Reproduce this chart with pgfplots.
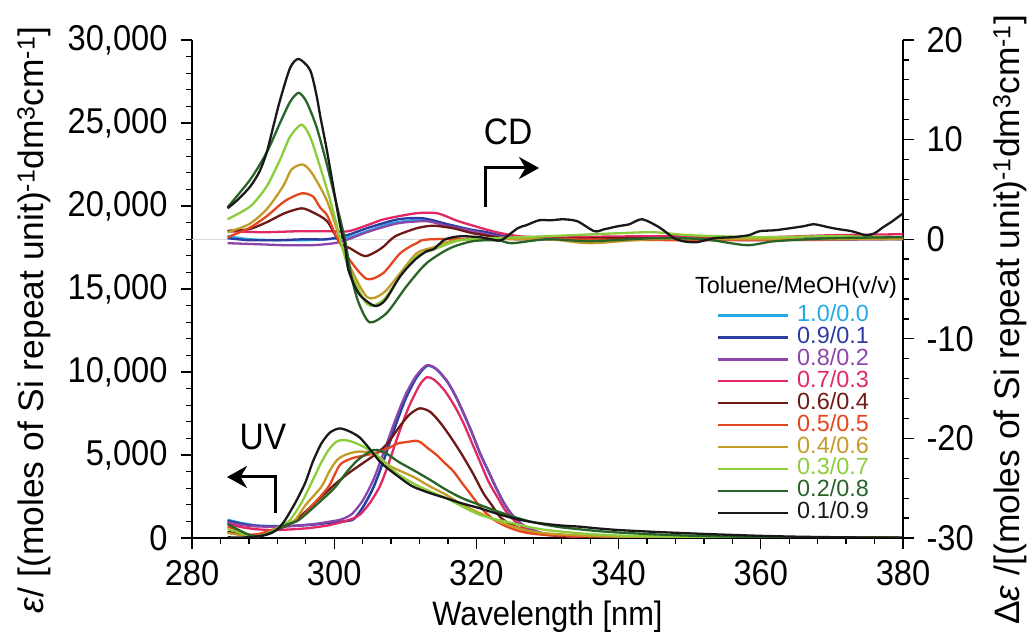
\documentclass[border=0pt]{standalone}
\usepackage{pgfplots}
\pgfplotsset{compat=1.18}
\usepackage{fontspec}
\setmainfont[FakeStretch=0.91]{Liberation Sans}
\newfontfamily\ylabfont{Liberation Sans}
\usetikzlibrary{arrows.meta}
\definecolor{c10}{RGB}{35,170,230}
\definecolor{c09}{RGB}{45,60,160}
\definecolor{c08}{RGB}{140,70,170}
\definecolor{c07}{RGB}{225,40,100}
\definecolor{c06}{RGB}{110,25,20}
\definecolor{c05}{RGB}{230,70,30}
\definecolor{c04}{RGB}{195,155,40}
\definecolor{c03}{RGB}{140,205,60}
\definecolor{c02}{RGB}{40,100,40}
\definecolor{c01}{RGB}{25,25,25}
\newcommand{\tickfont}{\fontsize{36}{36}\selectfont}
\newcommand{\xlabfont}{\fontsize{34}{34}\selectfont}
\newcommand{\ylabfontsize}{\ylabfont\fontsize{35.5}{35.5}\selectfont}
\newcommand{\legfont}{\ylabfont\fontsize{23.5}{23.5}\selectfont}
\begin{document}
\begin{tikzpicture}
\path[use as bounding box] (0,0) rectangle (1032bp,637bp);
\pgfplotsset{
  common/.style={
    at={(192bp,99bp)}, anchor=south west,
    width=711bp, height=498bp, scale only axis,
    xmin=280, xmax=380,
    tick align=outside, major tick length=11bp, minor tick length=6bp,
    every tick/.style={black, line width=1.3bp},
    axis line style={line width=1.7bp, -, black},
    ticklabel style={font=\tickfont},
    /pgf/number format/assume math mode=true,
    every axis plot/.append style={line width=2.3bp, smooth, tension=0.45},
  }
}
\begin{axis}[common,
  ymin=0, ymax=30000,
  axis x line*=bottom, axis y line*=left,
  xtick={280,300,...,380}, minor x tick num=4,
  ytick={0,5000,...,30000}, minor y tick num=4,
  yticklabels={0,{5,000},{10,000},{15,000},{20,000},{25,000},{30,000}},
  scaled y ticks=false,
  yticklabel style={xshift=-10bp},
  xticklabel style={yshift=-8bp},
  xlabel={Wavelength [nm]},
  ylabel={\textit{ε}/ [(moles of Si repeat unit)\textsuperscript{-1}dm\textsuperscript{3}cm\textsuperscript{-1}]},
  xlabel style={font=\xlabfont, at={(axis description cs:0.5,-0.158)}, anchor=center},
  ylabel style={font=\ylabfontsize, at={(axis description cs:-0.222,0.438)}, anchor=center},
]
\addplot[c10] coordinates {(285,1100)(287,900)(289,760)(291.5,720)(294,740)(297,820)(299,920)(301,1000)(302.7,1150)(304,1850)(305.5,3050)(307,4750)(308.5,6650)(310,8350)(311.5,9600)(313,10350)(314.3,10180)(315.8,9480)(317,8600)(318.2,7500)(319.4,6300)(320.5,5100)(321.7,4000)(322.9,2900)(324,2000)(325.2,1300)(326.4,820)(327.6,530)(329.9,230)(334.6,90)(340,40)(350,20)(360,10)(380,0)};
\addplot[c09] coordinates {(285,1040)(287,860)(289,740)(291.5,700)(294,720)(297,800)(299,900)(301,980)(302.7,1120)(304,1820)(305.5,3020)(307,4720)(308.5,6620)(310,8340)(311.5,9620)(313,10380)(314.3,10200)(315.8,9500)(317,8620)(318.2,7520)(319.4,6320)(320.5,5120)(321.7,4020)(322.9,2920)(324,2020)(325.2,1300)(326.4,820)(327.6,530)(329.9,230)(334.6,90)(340,40)(350,20)(360,10)(380,0)};
\addplot[c08] coordinates {(285,950)(287,780)(289,700)(291.5,680)(294,720)(297,830)(299,960)(301,1120)(302.5,1450)(304,2250)(305.5,3500)(307,5200)(308.5,7000)(310,8600)(311.5,9750)(313,10400)(314.3,10200)(315.8,9480)(317,8600)(318.2,7500)(319.4,6300)(320.5,5100)(321.7,4000)(322.9,2900)(324,2000)(325.2,1300)(326.4,820)(327.6,530)(329.9,230)(334.6,90)(340,40)(350,20)(360,10)(380,0)};
\addplot[c07] coordinates {(285,850)(287,650)(289,530)(291.4,480)(294,520)(296.5,600)(299,750)(301,950)(302.5,1150)(303.6,1400)(305,2100)(306.4,3100)(307.5,4300)(309,6200)(310.5,7900)(312,9200)(313,9680)(314,9550)(315.5,8900)(317,7900)(318.2,6900)(319.5,5600)(320.5,4600)(321.7,3400)(322.9,2500)(324,1700)(325.2,1100)(326.5,650)(327.6,420)(329.9,180)(334.6,60)(340,30)(360,10)(380,0)};
\addplot[c06] coordinates {(285,380)(286.5,250)(288.2,180)(290,260)(292,500)(294,900)(296,1600)(298,2400)(300,3200)(302,3900)(304,4500)(306,5100)(307.5,5700)(309,6600)(310.5,7400)(312,7810)(313.5,7600)(315,6900)(316.5,6000)(318,5000)(319.5,3900)(321,2690)(322.3,1900)(323.3,1280)(324.5,900)(326.1,580)(328,350)(330,200)(335,90)(340,40)(360,10)(380,0)};
\addplot[c05] coordinates {(285,700)(286.5,450)(288,200)(289.5,250)(291,450)(292,600)(293.5,850)(295,1084)(297,2000)(299.2,3090)(300.8,4400)(302.5,4800)(304.6,5000)(306.4,5200)(307.8,5450)(309,5700)(310.5,5800)(311.5,5860)(312.2,5750)(313.2,5400)(314.4,5000)(315.6,4500)(316.8,4000)(318,3300)(319.1,2690)(320.3,2000)(321.4,1490)(322.8,1000)(324.3,680)(326,420)(327.6,280)(330,180)(335,120)(340,80)(350,40)(360,20)(380,10)};
\addplot[c04] coordinates {(285,300)(287,170)(289,100)(290.5,250)(292,550)(293.5,850)(294.5,1084)(296,2000)(298.2,3090)(299.3,4000)(300.4,4700)(301.5,5000)(303.2,5200)(305,5150)(306.4,4800)(308,4300)(311.1,3690)(313.5,3100)(315.8,2590)(318,2000)(320.5,1490)(323,1000)(325.2,680)(327.5,420)(329.9,280)(334.6,150)(340,80)(350,40)(360,20)(380,10)};
\addplot[c03] coordinates {(285,550)(286.5,350)(288,150)(289.5,120)(291,350)(292.5,750)(293.8,1084)(295.5,2200)(297,3500)(298,4400)(299.2,5300)(300.3,5800)(301.3,5900)(302.5,5800)(304.1,5500)(306.4,4850)(308.5,4000)(311.1,3290)(313.5,2800)(315.8,2390)(318,1900)(320.5,1390)(323,1100)(325.2,880)(327.5,650)(329.9,480)(334.6,280)(340,150)(350,60)(360,25)(370,15)(380,10)};
\addplot[c02] coordinates {(285,850)(286.5,500)(288,200)(289.5,100)(291.4,380)(293,750)(295,1084)(297.5,2000)(300,3000)(302,4100)(303.6,4800)(305.5,5300)(306.4,5250)(307.5,5050)(309,4600)(311.1,4100)(313.5,3500)(315.8,2890)(318,2400)(320.5,1990)(323,1600)(325.2,1280)(327.5,1000)(329.9,780)(332,640)(334.6,520)(337,420)(340,330)(345,220)(350,140)(355,90)(360,60)(370,30)(380,20)};
\addplot[c01] coordinates {(285,40)(287,30)(289,80)(290.5,200)(291.4,350)(292.3,650)(293.1,1084)(294.5,2100)(295.9,3300)(297,4600)(298.2,5700)(299.4,6350)(300.7,6600)(302,6450)(303.6,6050)(305.5,5100)(306.4,4600)(307.8,4100)(309.5,3550)(311.1,3090)(313.5,2700)(315.8,2390)(318,2080)(320.5,1790)(323,1450)(325.2,1190)(327.5,980)(329.9,840)(332,750)(334.6,680)(337,580)(340,480)(345,370)(350,280)(355,200)(360,130)(365,80)(370,50)(375,30)(380,20)};
\end{axis}
\begin{axis}[common,
  ymin=-30, ymax=20,
  axis y line*=right, axis x line=none,
  ytick={-30,-20,...,20}, yticklabels={-30,-20,-10,0,10,20}, minor y tick num=4,
  yticklabel style={xshift=9bp},
  ylabel={Δ\textit{ε} /[(moles of Si repeat unit)\textsuperscript{-1}dm\textsuperscript{3}cm\textsuperscript{-1}]},
  ylabel style={font=\ylabfontsize, at={(axis description cs:1.1505,0.438)}, anchor=center},
  legend cell align=left,
  legend image code/.code={\draw[#1] (0bp,0bp) -- (70bp,0bp);},
  legend style={at={(axis description cs:0.738,0.469)}, anchor=north west,
    draw=none, fill=none, inner sep=0pt, row sep=0pt, font=\legfont,
    nodes={inner sep=0pt, text height=17bp, text depth=4.9bp},
    /tikz/every odd column/.style={column sep=8bp}},
]
\addplot[gray!30, line width=1bp, forget plot, sharp plot] coordinates {(280,0)(380,0)};
\addplot[c10] coordinates {(285,0.3)(288,0.0)(292,-0.1)(296,-0.1)(299,0.0)(302,0.2)(305,0.9)(308,1.6)(311,1.9)(313,1.9)(316,1.4)(319,0.9)(322,0.4)(325,0.1)(330,0.0)(340,0.1)(350,0.0)(360,0.1)(370,0.0)(380,0.1)};
\addlegendentry{\textcolor{c10}{1.0/0.0}}
\addplot[c09] coordinates {(285,0.1)(288,-0.1)(292,-0.1)(296,0.0)(299,0.0)(302,0.45)(305,1.2)(309,2.0)(312.5,2.1)(316,1.5)(319,1.0)(321.5,0.7)(324,0.3)(327,0.1)(335,0.0)(345,0.1)(355,0.0)(365,0.1)(380,0.0)};
\addlegendentry{\textcolor{c09}{0.9/0.1}}
\addplot[c08] coordinates {(285,-0.4)(289,-0.5)(293,-0.6)(297,-0.6)(300,-0.4)(302,0.0)(305,0.8)(309,1.6)(313,1.8)(316,1.3)(319,0.9)(321.5,0.5)(324,0.2)(328,0.0)(340,0.0)(360,-0.1)(380,0.0)};
\addlegendentry{\textcolor{c08}{0.8/0.2}}
\addplot[c07] coordinates {(285,0.8)(290,0.7)(295,0.8)(299,0.8)(302,0.8)(305,1.5)(307,2.0)(311.5,2.6)(314.5,2.6)(317.5,1.8)(321.5,0.95)(323.5,0.6)(326,0.3)(330,0.2)(345,0.3)(360,0.2)(370,0.4)(380,0.5)};
\addlegendentry{\textcolor{c07}{0.7/0.3}}
\addplot[c06] coordinates {(285,0.85)(288,1.0)(290.5,1.7)(293,2.6)(295.4,3.1)(297,2.7)(299,1.8)(300.8,-0.35)(302.2,-0.9)(304.3,-1.7)(306,-1.2)(307,-0.7)(308.6,0.3)(311.6,1.1)(313.9,1.35)(316.7,1.1)(319.5,0.6)(323,0.2)(326,0.0)(340,0.1)(360,0.0)(380,0.1)};
\addlegendentry{\textcolor{c06}{0.6/0.4}}
\addplot[c05] coordinates {(285,0.2)(288,1.1)(290.5,2.3)(293,3.8)(295.4,4.6)(297,4.3)(298,3.2)(299,2.4)(300.3,0.3)(302.2,-2.1)(304.6,-4.0)(306.9,-3.4)(309.3,-1.4)(311.6,-0.4)(314,0.0)(330,0.0)(350,-0.1)(370,0.0)(380,0.2)};
\addlegendentry{\textcolor{c05}{0.5/0.5}}
\addplot[c04] coordinates {(285,0.7)(288,1.5)(290.5,3.0)(292.8,5.3)(294,7.0)(295.6,7.5)(296.9,6.6)(298.9,4.0)(300.4,0.95)(301.8,-2.1)(304.6,-5.8)(306.9,-5.4)(309.3,-3.4)(311.6,-1.4)(314,-0.8)(316.3,-0.2)(320,0.0)(330,0.0)(336,-0.4)(345,0.0)(360,0.0)(380,0.0)};
\addlegendentry{\textcolor{c04}{0.4/0.6}}
\addplot[c03] coordinates {(285,2.0)(288.2,3.3)(290.5,5.3)(292.4,8.0)(293.8,10.3)(295.4,11.5)(296.6,10.3)(298,7.3)(299.4,4.0)(300.4,1.3)(301.8,-2.4)(304.6,-6.5)(306.9,-6.1)(309.3,-3.7)(311.6,-1.7)(314,-1.05)(316.3,-0.4)(319,0.0)(330,0.3)(340,0.6)(345,0.7)(350,0.4)(360,0.2)(370,0.3)(380,0.2)};
\addlegendentry{\textcolor{c03}{0.3/0.7}}
\addplot[c02] coordinates {(285,3.2)(288.2,6.0)(290.5,8.7)(292.4,11.7)(293.8,13.8)(295,14.7)(296.1,13.8)(297.5,11.3)(298.9,7.7)(300.4,3.3)(301.5,0.0)(302.5,-4.0)(303.5,-6.5)(305,-8.35)(307.4,-7.4)(310.2,-4.7)(313,-2.4)(316.3,-0.9)(319.5,-0.2)(323,-0.1)(325,-0.4)(330,0.0)(336,-0.2)(345,0.1)(352,0.0)(358,-0.6)(362,-0.2)(370,0.1)(380,0.2)};
\addlegendentry{\textcolor{c02}{0.2/0.8}}
\addplot[c01] coordinates {(285,3.1)(286.5,4.0)(288.2,5.3)(289.5,6.8)(290.5,8.7)(291.5,11.5)(292.4,14.0)(293.8,17.2)(295,18.1)(296.6,17.0)(297.5,14.5)(298,12.5)(299,8.8)(300.8,1.5)(301.5,-0.5)(302,-3.1)(303.5,-5.5)(305.7,-6.7)(307.2,-6.1)(309.3,-3.7)(311.3,-2.1)(313,-1.2)(314,-1.0)(315.4,-0.1)(316.7,0.2)(318,0.3)(320.5,0.2)(322,0.0)(323.5,-0.1)(325.8,1.1)(327,1.4)(328.8,1.9)(330.5,1.9)(332.2,2.0)(334.2,1.8)(336.6,0.8)(338,1.0)(339.9,1.3)(341.5,1.5)(343.3,2.0)(345.7,1.2)(347.7,0.15)(349,-0.2)(351,-0.3)(353.4,0.1)(356,0.2)(358.3,0.4)(359.8,0.8)(362,0.9)(364.1,1.1)(366,1.3)(367.5,1.5)(369.5,1.2)(371,1.0)(372.8,0.8)(374.8,0.4)(376,0.6)(377.2,1.2)(378.5,1.8)(380,2.6)};
\addlegendentry{\textcolor{c01}{0.1/0.9}}
\node[anchor=east, font=\legfont, inner sep=0pt] at (axis description cs:0.9916,0.503) {Toluene/MeOH(v/v)};
\end{axis}
% annotations (pixel coordinates of the reference, y measured from bottom)
\node[font=\fontsize{37}{37}\selectfont, inner sep=0pt] at (508bp,505bp) {CD};
\draw[line width=3bp, -{Stealth[length=20bp,width=22bp]}] (485bp,430bp) -- (485bp,469bp) -- (539bp,469bp);
\node[font=\fontsize{37}{37}\selectfont, inner sep=0pt] at (263bp,200bp) {UV};
\draw[line width=3bp, -{Stealth[length=20bp,width=22bp]}] (275bp,124bp) -- (275bp,160bp) -- (227bp,160bp);
\end{tikzpicture}
\end{document}
